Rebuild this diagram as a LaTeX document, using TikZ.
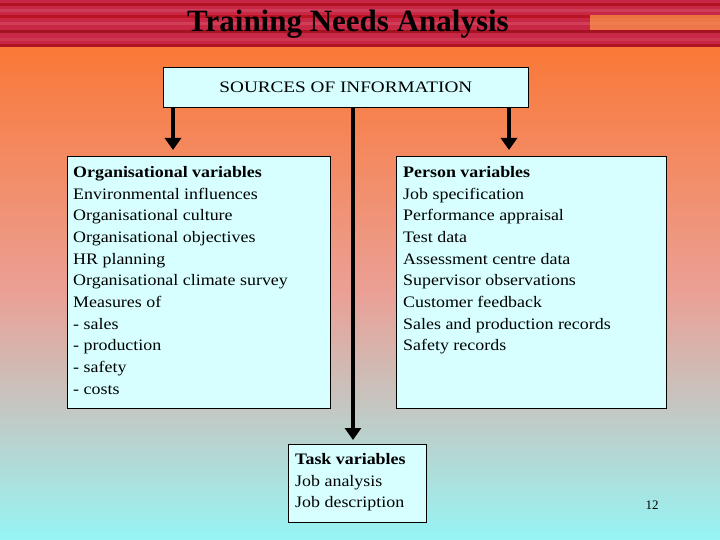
\documentclass[tikz,border=0pt]{standalone}
\usepackage{fontspec}
\setmainfont{Liberation Serif}
\usetikzlibrary{arrows.meta}
\definecolor{boxc}{RGB}{215,255,255}
\definecolor{topc}{RGB}{250,120,55}
\definecolor{midc}{RGB}{235,160,150}
\definecolor{botc}{RGB}{150,245,245}
\definecolor{hdr}{RGB}{200,40,70}
\tikzset{box/.style={draw=black,fill=boxc,line width=0.8pt,inner sep=5pt},
 arr/.style={line width=4pt,-{Triangle[length=12pt,width=16pt]}},
 txt/.style={font=\fontsize{16pt}{21.7pt}\selectfont,align=left,anchor=north west,inner sep=0pt,xscale=1.12}}
\begin{document}
\begin{tikzpicture}[x=1pt,y=-1pt]
\useasboundingbox (0,0) rectangle (720,540);
\shade[top color=topc,bottom color=botc,middle color=midc] (0,47) rectangle (720,540);
\fill[hdr] (0,0) rectangle (720,47);
\foreach \y/\c in {3/red!60!black,9/hdr!80!white,15/red!70!black,22/hdr!70!pink,30/red!50!black,38/hdr!80!pink,44/red!60!black}
  \fill[\c,opacity=0.5] (0,\y) rectangle (720,\y+3);
\fill[orange!60!pink,opacity=0.7] (590,15) rectangle (720,30);
\node[font=\bfseries\fontsize{31pt}{33pt}\selectfont] (title) at (348,24) {Training Needs Analysis};
\node[box,minimum width=365pt,minimum height=40pt,anchor=north west] (src) at (163,67) {};
\node[font=\fontsize{16pt}{18pt}\selectfont,xscale=1.2] (srct) at (src.center) {SOURCES OF INFORMATION};
\node[box,minimum width=263pt,minimum height=252pt,anchor=north west] (org) at (67,156) {};
\node[txt] (orgt) at (73,166) {\textbf{Organisational variables}\\Environmental influences\\Organisational culture\\Organisational objectives\\HR planning\\Organisational climate survey\\Measures of\\- sales\\- production\\- safety\\- costs};
\node[box,minimum width=270pt,minimum height=252pt,anchor=north west] (per) at (396,156) {};
\node[txt] (pert) at (403,166) {\textbf{Person variables}\\Job specification\\Performance appraisal\\Test data\\Assessment centre data\\Supervisor observations\\Customer feedback\\Sales and production records\\Safety records};
\node[box,minimum width=138pt,minimum height=78pt,anchor=north west] (task) at (288,444) {};
\node[txt] (taskt) at (295,453) {\textbf{Task variables}\\Job analysis\\Job description};
\coordinate (l1) at (173,107); \coordinate (l2) at (173,150);
\coordinate (r1) at (509,107); \coordinate (r2) at (509,150);
\coordinate (c1) at (353,107); \coordinate (c2) at (353,440);
\draw[arr] (l1) -- (l2);
\draw[arr] (r1) -- (r2);
\draw[arr] (c1) -- (c2);
\node[font=\fontsize{13pt}{15pt}\selectfont] (num) at (652,505) {12};
\end{tikzpicture}
\end{document}
